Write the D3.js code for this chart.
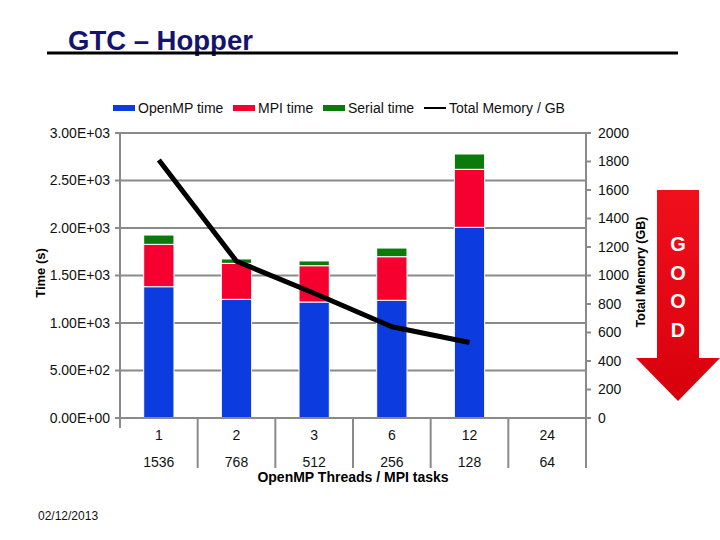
<!DOCTYPE html>
<html>
<head>
<meta charset="utf-8">
<script src="https://cdn.jsdelivr.net/npm/d3@7"></script>
<style>
  body { margin: 0; background: #fff; }
  svg { font-family: "Liberation Sans", Arial, sans-serif; }
  .tick-label { font-size: 14px; fill: #111; }
</style>
</head>
<body>
<svg width="720" height="540"></svg>
<script>
// values
const threads = ['1', '2', '3', '6', '12', '24'];
const mpiTasks = ['1536', '768', '512', '256', '128', '64'];
const openmpTime = [1382, 1249, 1221, 1239, 2007, null];
const mpiTime = [446, 379, 382, 459, 611, null];
const serialTime = [98, 46, 50, 91, 161, null];
const memoryGB = [1810, 1100, 875, 640, 530, null];
const timeTicks = [0, 500, 1000, 1500, 2000, 2500, 3000];
const memTicks = [0, 200, 400, 600, 800, 1000, 1200, 1400, 1600, 1800, 2000];

const colors = {openmp: '#0c3ce0', mpi: '#f60030', serial: '#0b7a0b'};

let svg = d3.select('svg');
let plotLeft = 120, plotRight = 586, plotTop = 133, plotBottom = 418;

let x = d3.scaleBand().domain(threads).range([plotLeft, plotRight]);
let yTime = d3.scaleLinear().domain([0, 3000]).range([plotBottom, plotTop]);
let yMem = d3.scaleLinear().domain([0, 2000]).range([plotBottom, plotTop]);

// title
svg.append('text')
    .attr('x', 68).attr('y', 50)
    .attr('font-size', 27.5).attr('font-weight', 'bold')
    .attr('fill', '#14146e')
    .text('GTC \u2013 Hopper');
svg.append('line')
    .attr('x1', 47).attr('x2', 678).attr('y1', 53).attr('y2', 53)
    .attr('stroke', '#000').attr('stroke-width', 3);

// gridlines
svg.append('g').selectAll('line').data(timeTicks.filter(d => d > 0)).enter().append('line')
    .attr('x1', plotLeft).attr('x2', plotRight)
    .attr('y1', d => yTime(d)).attr('y2', d => yTime(d))
    .attr('stroke', '#8a8a8a').attr('stroke-width', 2);

// stacked bars
let table = threads.map((t, i) => ({
    cat: t,
    openmp: openmpTime[i] || 0,
    mpi: mpiTime[i] || 0,
    serial: serialTime[i] || 0
}));
let series = d3.stack().keys(['openmp', 'mpi', 'serial'])(table);
let bw = x.bandwidth() * 0.39;
svg.append('g').selectAll('g').data(series).enter().append('g')
    .attr('fill', d => colors[d.key])
    .selectAll('rect')
    .data(d => d.filter(s => s[1] > s[0]))
    .enter().append('rect')
    .attr('x', d => x(d.data.cat) + (x.bandwidth() - bw) / 2)
    .attr('width', bw)
    .attr('y', d => yTime(d[1]))
    .attr('height', d => yTime(d[0]) - yTime(d[1]))
    .attr('stroke', '#fff').attr('stroke-width', 1);

// axes lines
let axisColor = '#8a8a8a';
let axes = svg.append('g').attr('stroke', axisColor).attr('stroke-width', 2);
axes.append('line').attr('x1', plotLeft).attr('x2', plotLeft).attr('y1', plotTop).attr('y2', plotBottom + 10);
axes.append('line').attr('x1', plotRight).attr('x2', plotRight).attr('y1', plotTop).attr('y2', plotBottom);
axes.append('line').attr('x1', plotLeft).attr('x2', plotRight).attr('y1', plotBottom).attr('y2', plotBottom);
axes.selectAll('.ltick').data(timeTicks).enter().append('line')
    .attr('x1', plotLeft - 5).attr('x2', plotLeft)
    .attr('y1', d => yTime(d)).attr('y2', d => yTime(d));
axes.selectAll('.rtick').data(memTicks).enter().append('line')
    .attr('x1', plotRight).attr('x2', plotRight + 5)
    .attr('y1', d => yMem(d)).attr('y2', d => yMem(d));
axes.selectAll('.xdiv').data(threads.slice(1).concat(['end'])).enter().append('line')
    .attr('x1', d => d === 'end' ? plotRight : x(d))
    .attr('x2', d => d === 'end' ? plotRight : x(d))
    .attr('y1', plotBottom).attr('y2', plotBottom + 50);

// memory line
let line = d3.line()
    .defined(d => d[1] != null)
    .x(d => x(d[0]) + x.bandwidth() / 2)
    .y(d => yMem(d[1]));
svg.append('path')
    .datum(threads.map((t, i) => [t, memoryGB[i]]))
    .attr('d', line)
    .attr('fill', 'none').attr('stroke', '#000').attr('stroke-width', 5)
    .attr('stroke-linejoin', 'round');

// tick labels
function sciLabel(v) {
    let s = d3.format('.2e')(v).toUpperCase();
    return s.replace(/E([+-])(\d)$/, 'E$10$2');
}
svg.append('g').selectAll('text').data(timeTicks).enter().append('text')
    .attr('class', 'tick-label')
    .attr('x', 110).attr('y', d => yTime(d)).attr('dy', '0.35em')
    .attr('text-anchor', 'end')
    .text(sciLabel);
svg.append('g').selectAll('text').data(memTicks).enter().append('text')
    .attr('class', 'tick-label')
    .attr('x', 598).attr('y', d => yMem(d)).attr('dy', '0.35em')
    .text(d => d);
svg.append('g').selectAll('text').data(threads).enter().append('text')
    .attr('class', 'tick-label')
    .attr('x', d => x(d) + x.bandwidth() / 2).attr('y', 440)
    .attr('text-anchor', 'middle')
    .text(d => d);
svg.append('g').selectAll('text').data(mpiTasks).enter().append('text')
    .attr('class', 'tick-label')
    .attr('x', (d, i) => x(threads[i]) + x.bandwidth() / 2).attr('y', 467)
    .attr('text-anchor', 'middle')
    .text(d => d);

// axis titles
svg.append('text')
    .attr('x', 353).attr('y', 482).attr('text-anchor', 'middle')
    .attr('font-size', 14).attr('font-weight', 'bold')
    .text('OpenMP Threads / MPI tasks');
svg.append('text')
    .attr('transform', 'translate(45,273) rotate(-90)')
    .attr('text-anchor', 'middle')
    .attr('font-size', 13).attr('font-weight', 'bold')
    .text('Time (s)');
svg.append('text')
    .attr('transform', 'translate(645,272) rotate(-90)')
    .attr('text-anchor', 'middle')
    .attr('font-size', 12.5).attr('font-weight', 'bold')
    .text('Total Memory (GB)');

// legend
let legend = [
    {label: 'OpenMP time', color: colors.openmp, x: 113, type: 'box'},
    {label: 'MPI time', color: colors.mpi, x: 233, type: 'box'},
    {label: 'Serial time', color: colors.serial, x: 323, type: 'box'},
    {label: 'Total Memory / GB', color: '#000', x: 424, type: 'line'}
];
let lg = svg.append('g').selectAll('g').data(legend).enter().append('g')
    .attr('transform', d => `translate(${d.x},108)`);
lg.filter(d => d.type === 'box').append('rect')
    .attr('x', 0).attr('y', -3).attr('width', 22).attr('height', 6)
    .attr('fill', d => d.color);
lg.filter(d => d.type === 'line').append('line')
    .attr('x1', 0).attr('x2', 22).attr('y1', 0).attr('y2', 0)
    .attr('stroke', '#000').attr('stroke-width', 2);
lg.append('text')
    .attr('x', 25).attr('dy', '0.35em')
    .attr('font-size', 14).attr('fill', '#111')
    .text(d => d.label);

// GOOD arrow
let defs = svg.append('defs');
let grad = defs.append('linearGradient').attr('id', 'arrowGrad')
    .attr('x1', 0).attr('x2', 0).attr('y1', 0).attr('y2', 1);
grad.append('stop').attr('offset', '0%').attr('stop-color', '#f0101c');
grad.append('stop').attr('offset', '100%').attr('stop-color', '#d8000c');
svg.append('path')
    .attr('d', 'M657,190 L699,190 L699,358 L720,358 L678,401 L636,358 L657,358 Z')
    .attr('fill', 'url(#arrowGrad)');
svg.append('g').selectAll('text').data(['G', 'O', 'O', 'D']).enter().append('text')
    .attr('x', 678).attr('y', (d, i) => 244 + i * 28.5).attr('dy', '0.35em')
    .attr('text-anchor', 'middle')
    .attr('font-size', 20).attr('font-weight', 'bold').attr('fill', '#fff')
    .text(d => d);

// date
svg.append('text')
    .attr('x', 38).attr('y', 520)
    .attr('font-size', 12).attr('fill', '#111')
    .text('02/12/2013');
</script>
</body>
</html>
